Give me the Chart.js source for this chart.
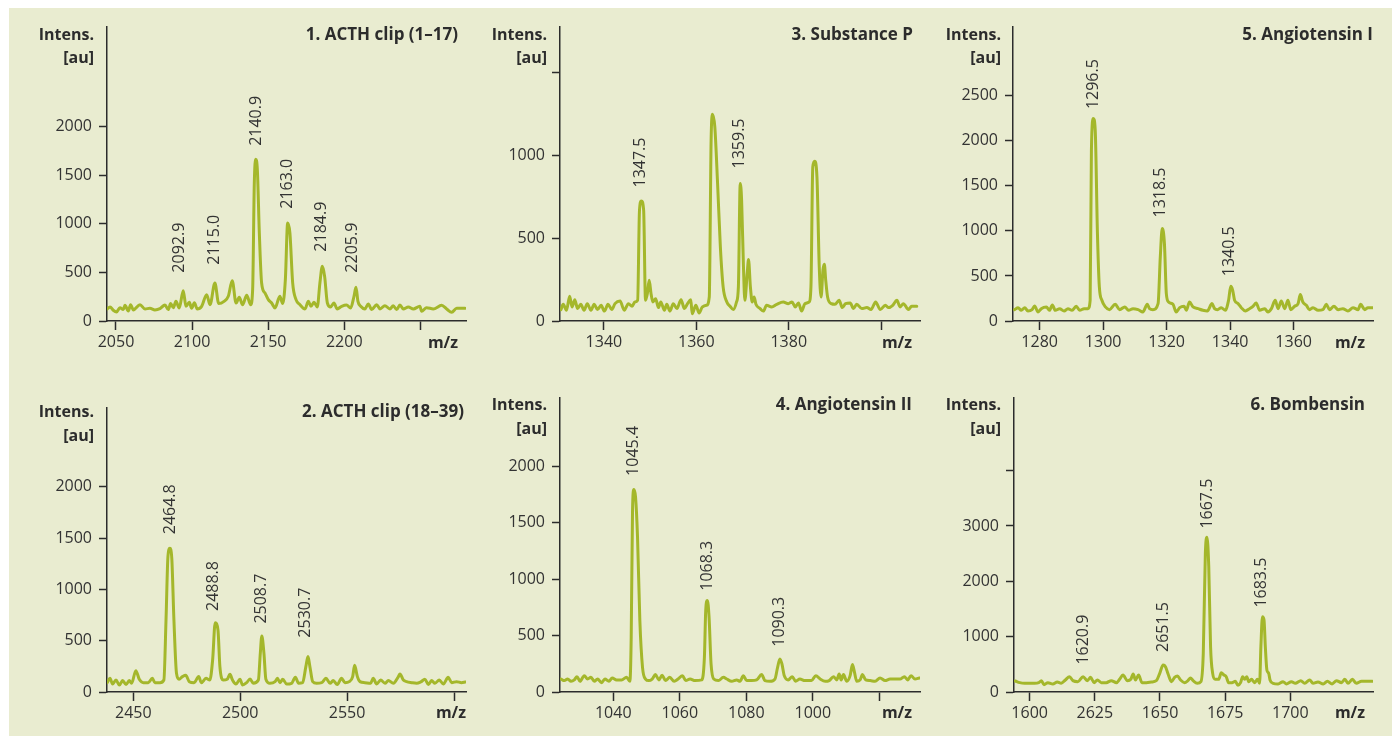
<!DOCTYPE html>
<html><head><meta charset="utf-8">
<script src="https://cdn.jsdelivr.net/npm/chart.js@4.4.0/dist/chart.umd.min.js"></script>
<style>
html,body{margin:0;padding:0;background:#fff;width:1392px;height:744px;overflow:hidden;}
#bg{position:absolute;left:9px;top:8px;width:1383px;height:728px;background:#e9ecd0;}
canvas{position:absolute;}
</style></head><body>
<div id="bg"></div>
<canvas id="c1"></canvas><canvas id="c3"></canvas><canvas id="c5"></canvas>
<canvas id="c2"></canvas><canvas id="c4"></canvas><canvas id="c6"></canvas>
<script>
// ---------- 1. ACTH clip (1-17)
const acth117Mz = [2044.2,2046.1,2048.2,2050.4,2052.6,2054.8,2055.9,2058.1,2059.6,2061.4,2065.8,2069.1,2072.3,2075.6,2078.9,2082.2,2084.4,2085.9,2087.7,2089.4,2091.6,2094.2,2096.0,2098.2,2099.7,2101.5,2103.4,2106.3,2109.6,2111.8,2115.0,2117.5,2121.0,2123.8,2126.4,2128.9,2131.0,2133.2,2135.9,2138.5,2139.8,2140.9,2141.8,2142.9,2144.2,2145.7,2147.9,2150.1,2152.3,2154.5,2157.7,2159.5,2161.3,2162.8,2164.3,2166.1,2168.3,2170.9,2174.2,2176.4,2178.1,2180.1,2182.3,2184.0,2185.6,2187.1,2188.9,2191.0,2193.2,2195.4,2198.3,2201.5,2204.2,2206.4,2207.7,2209.0,2210.8,2213.6,2215.8,2218.0,2221.3,2223.5,2226.7,2230.0,2232.2,2234.4,2236.6,2238.8,2242.1,2245.4,2249.7,2250.8,2254.1,2258.5,2264.0,2267.3,2270.6,2273.9,2279.3];
const acth117Int = [124,145,110,93,137,117,161,103,168,114,168,124,131,114,127,165,117,179,137,202,134,312,151,192,131,188,124,151,271,168,391,179,202,254,415,185,244,168,264,168,322,1418,1664,1554,904,391,288,220,185,134,254,179,425,1007,904,391,220,168,124,202,151,192,145,391,562,459,185,145,185,124,151,165,134,254,346,202,151,124,175,117,168,124,158,124,158,117,165,124,145,124,151,100,137,124,161,124,89,131,131];
const acth117XTicks = [2050,2100,2150,2200,2250];
const acth117XLabels = ['2050','2100','2150','2200',''];
const acth117YTicks = [0,500,1000,1500,2000];
const acth117YLabels = ['0','500','1000','1500','2000'];
const acth117Peaks = ['2092.9','2115.0','2140.9','2163.0','2184.9','2205.9'];
const acth117PeakMz = [2092.0,2114.4,2142.0,2162.4,2185.3,2205.7];
const acth117PeakLabelInt = [497,579,1801,1154,713,497];

// ---------- 3. Substance P
const subPMz = [1330.7,1331.2,1331.9,1332.6,1333.1,1333.7,1334.3,1335.0,1335.7,1336.4,1337.2,1337.9,1338.6,1339.4,1340.1,1340.9,1341.7,1342.4,1343.5,1344.4,1345.3,1346.1,1346.7,1347.3,1347.7,1348.1,1348.6,1349.0,1349.4,1349.8,1350.2,1350.6,1351.2,1351.8,1352.3,1353.1,1353.6,1354.3,1355.0,1355.8,1356.7,1357.4,1358.1,1358.8,1359.1,1359.9,1360.6,1361.3,1362.2,1362.8,1363.2,1363.5,1364.0,1364.6,1365.2,1365.8,1366.6,1367.3,1368.0,1368.7,1369.1,1369.5,1369.8,1370.2,1370.5,1371.0,1371.3,1371.7,1372.1,1372.5,1372.9,1373.8,1374.5,1375.2,1376.3,1377.4,1378.8,1379.9,1380.7,1381.4,1382.1,1382.8,1383.5,1384.4,1384.8,1385.2,1385.6,1386.1,1386.6,1387.0,1387.4,1387.7,1388.0,1388.4,1389.2,1390.0,1390.9,1391.6,1392.3,1393.3,1394.0,1394.7,1395.8,1396.9,1397.8,1398.8,1399.8,1400.9,1401.6,1402.5,1403.4,1404.1,1404.8,1405.9,1406.6,1407.7];
const subPInt = [69,101,65,149,85,129,75,101,65,105,65,101,69,95,60,101,69,105,121,65,105,89,115,125,669,726,669,125,165,246,165,115,135,81,115,65,101,60,105,75,129,75,105,129,44,95,48,85,95,145,1093,1250,1173,831,448,206,115,89,69,115,206,831,730,327,125,286,371,206,115,145,101,75,60,95,85,101,115,105,115,85,109,60,105,115,206,931,966,871,327,145,307,343,246,145,105,101,125,81,105,109,75,101,75,81,69,115,69,95,81,95,125,85,105,69,89,89];
const subPXTicks = [1340,1360,1380,1400];
const subPXLabels = ['1340','1360','1380',''];
const subPYTicks = [0,500,1000,1500];
const subPYLabels = ['0','500','1000',''];
const subPPeaks = ['1347.5','1359.5'];
const subPPeakMz = [1347.9,1369.3];
const subPPeakLabelInt = [807,922];

// ---------- 5. Angiotensin I
const angIMz = [1272.1,1273.2,1274.2,1275.3,1276.3,1277.6,1278.4,1279.5,1280.5,1282.1,1283.1,1284.0,1284.9,1286.3,1287.7,1288.9,1290.2,1291.5,1292.6,1294.0,1295.2,1295.9,1296.3,1296.9,1297.5,1298.2,1298.8,1299.6,1300.7,1302.0,1303.8,1305.2,1306.8,1308.0,1309.4,1311.0,1312.5,1313.9,1314.6,1315.7,1317.3,1318.0,1318.6,1319.3,1319.9,1320.6,1322.0,1323.0,1324.1,1325.5,1326.2,1327.2,1328.3,1329.9,1331.4,1332.8,1334.3,1335.1,1336.0,1337.2,1338.5,1339.5,1340.2,1340.8,1341.4,1342.5,1343.5,1344.8,1346.1,1347.2,1348.2,1349.3,1350.9,1351.9,1353.0,1354.2,1355.1,1356.1,1357.2,1358.2,1359.1,1360.3,1361.4,1362.1,1362.9,1364.0,1365.0,1366.1,1367.7,1369.2,1370.3,1371.3,1372.7,1374.0,1375.5,1377.1,1378.7,1380.3,1381.1,1382.4,1383.4,1385.0];
const angIInt = [126,148,119,148,111,126,167,100,137,156,119,178,119,137,111,137,119,163,119,137,137,230,1896,2248,2119,970,378,230,156,126,185,126,156,119,137,126,100,185,137,126,193,711,1026,859,304,211,185,100,148,163,119,211,156,137,119,111,193,137,126,148,119,230,385,341,230,193,148,111,137,163,200,119,137,100,137,230,137,222,137,230,126,163,193,293,211,174,126,148,119,126,185,126,163,126,137,111,148,126,185,126,148,148];
const angIXTicks = [1280,1300,1320,1340,1360];
const angIXLabels = ['1280','1300','1320','1340','1360'];
const angIYTicks = [0,500,1000,1500,2000,2500];
const angIYLabels = ['0','500','1000','1500','2000','2500'];
const angIPeaks = ['1296.5','1318.5','1340.5'];
const angIPeakMz = [1296.9,1318.1,1339.7];
const angIPeakLabelInt = [2352,1149,497];

// ---------- 2. ACTH clip (18-39)
const acth1839Mz = [2437.8,2439.1,2440.3,2441.9,2443.5,2445.0,2446.6,2448.1,2449.2,2451.2,2452.8,2454.7,2457.0,2458.9,2460.1,2462.5,2464.3,2465.3,2466.2,2467.1,2468.0,2469.0,2470.2,2471.4,2473.0,2474.5,2476.2,2478.4,2480.6,2481.8,2484.0,2485.8,2487.1,2488.3,2489.6,2490.5,2492.1,2493.9,2495.2,2496.4,2498.0,2499.9,2501.1,2503.0,2504.6,2506.1,2508.5,2509.4,2510.1,2511.1,2512.0,2513.9,2516.3,2517.4,2518.6,2519.9,2521.7,2524.0,2525.8,2527.3,2529.2,2530.7,2531.7,2532.6,2533.9,2535.7,2538.1,2540.1,2542.0,2543.5,2545.4,2547.4,2549.0,2551.0,2552.6,2553.5,2554.8,2556.0,2558.3,2561.0,2562.2,2563.8,2565.7,2567.7,2569.3,2571.6,2574.0,2574.7,2576.3,2577.8,2580.2,2582.5,2584.4,2586.4,2588.0,2589.5,2591.1,2593.1,2595.0,2597.3,2598.9,2601.2,2603.5,2605.3];
const acth1839Int = [91,133,78,117,68,111,72,111,85,208,124,91,91,133,91,91,117,702,1320,1401,1303,702,182,124,150,163,101,91,150,91,133,117,312,676,605,247,117,124,172,117,78,124,68,91,127,85,117,377,546,377,124,85,101,133,91,124,78,85,143,85,91,247,345,247,101,85,91,133,85,111,72,133,91,101,150,260,150,101,91,85,133,78,117,85,111,85,150,176,117,101,91,85,98,124,72,111,85,117,78,143,91,101,91,98];
const acth1839XTicks = [2450,2500,2550,2600];
const acth1839XLabels = ['2450','2500','2550',''];
const acth1839YTicks = [0,500,1000,1500,2000];
const acth1839YLabels = ['0','500','1000','1500','2000'];
const acth1839Peaks = ['2464.8','2488.8','2508.7','2530.7'];
const acth1839PeakMz = [2467.2,2487.4,2509.7,2530.6];
const acth1839PeakLabelInt = [1538,790,667,530];

// ---------- 4. Angiotensin II
const angIIMz = [1024.3,1025.3,1026.3,1027.3,1028.3,1029.1,1030.0,1031.3,1032.3,1033.3,1034.3,1035.3,1036.5,1037.5,1038.7,1039.7,1041.0,1042.5,1044.0,1045.0,1045.4,1045.8,1046.2,1046.7,1047.3,1048.0,1048.8,1049.7,1050.7,1051.7,1052.7,1053.7,1054.7,1055.7,1057.0,1058.3,1059.5,1060.8,1061.8,1063.1,1064.6,1066.6,1067.4,1067.8,1068.3,1068.8,1069.4,1070.2,1071.6,1073.1,1074.1,1075.6,1077.1,1078.1,1079.1,1080.1,1081.6,1083.1,1084.6,1085.6,1087.1,1088.6,1089.4,1090.1,1090.7,1091.4,1092.6,1093.8,1094.8,1096.1,1097.6,1099.6,1100.9,1102.2,1103.7,1104.9,1106.2,1107.2,1107.9,1108.5,1109.2,1110.2,1111.2,1111.9,1112.5,1113.2,1114.2,1114.9,1115.9,1117.2,1118.7,1120.2,1121.7,1123.2,1124.7,1126.2,1127.5,1128.5,1129.5,1130.7,1132.0];
const angIIInt = [115,101,115,95,107,136,95,145,115,130,95,115,83,115,95,124,107,107,130,95,485,1610,1793,1728,1373,633,219,115,101,115,154,107,148,101,130,95,115,145,101,115,101,107,308,722,811,663,249,115,101,130,115,95,107,95,145,101,101,107,154,101,95,115,219,293,249,145,107,136,95,115,101,101,145,115,95,101,136,107,160,107,154,95,145,243,175,95,107,154,107,101,95,124,101,115,115,115,136,107,145,115,124];
const angIIXTicks = [1040,1060,1080,1100,1120];
const angIIXLabels = ['1040','1060','1080','1000',''];
const angIIYTicks = [0,500,1000,1500,2000];
const angIIYLabels = ['0','500','1000','1500','2000'];
const angIIPeaks = ['1045.4','1068.3','1090.3'];
const angIIPeakMz = [1046.2,1068.3,1090.1];
const angIIPeakLabelInt = [1914,897,401];

// ---------- 6. Bombensin
const bombMz = [1594.5,1596.2,1598.1,1600.0,1601.9,1603.5,1604.5,1605.5,1607.0,1608.9,1610.6,1612.1,1613.7,1615.3,1616.6,1618.5,1620.5,1622.1,1623.4,1624.7,1626.0,1627.5,1629.4,1631.3,1633.3,1634.5,1635.8,1637.5,1638.8,1639.7,1640.6,1641.8,1643.1,1644.8,1646.7,1648.6,1649.9,1651.2,1652.1,1653.1,1654.4,1655.6,1656.7,1657.9,1659.4,1660.7,1661.7,1662.7,1664.3,1665.7,1666.6,1667.4,1668.0,1668.7,1669.4,1670.2,1671.2,1672.5,1673.5,1674.5,1675.4,1676.3,1677.6,1678.9,1679.9,1680.9,1681.7,1682.5,1683.3,1684.0,1685.1,1686.3,1687.4,1688.2,1688.7,1689.3,1689.9,1690.4,1691.0,1691.7,1692.2,1693.4,1695.3,1697.2,1698.5,1700.4,1701.9,1704.0,1705.5,1707.4,1708.7,1710.6,1712.6,1714.2,1716.0,1717.7,1719.6,1720.9,1722.1,1723.8,1725.3,1727.3,1729.2,1731.5];
const bombInt = [199,169,157,157,157,169,205,133,169,145,181,157,217,277,205,187,277,205,265,169,217,169,169,205,169,229,307,205,229,325,217,307,169,169,181,205,337,488,458,325,187,265,289,217,169,205,253,205,157,187,699,2506,2795,2265,819,337,229,229,349,307,277,169,169,193,120,169,277,229,277,187,229,169,229,157,819,1361,1301,819,398,337,217,157,145,187,145,187,157,205,157,217,157,181,145,193,145,205,169,229,157,229,157,193,193,193];
const bombXTicks = [1600,1625,1650,1675,1700];
const bombXLabels = ['1600','2625','1650','1675','1700'];
const bombYTicks = [0,1000,2000,3000,4000];
const bombYLabels = ['0','1000','2000','3000',''];
const bombPeaks = ['1620.9','2651.5','1667.5','1683.5'];
const bombPeakMz = [1620.6,1651.3,1668.2,1688.8];
const bombPeakLabelInt = [495,723,2953,1525];

// ---------- layout / styling
const LINE = '#a4b72b';
const INK = '#2c2c2c';
const FONT = '"Open Sans", "DejaVu Sans", sans-serif';

const panels = [
  {id:'c1', box:[9,8,461,361], area:[107,27,466,321], xr:[2044.1,2280], yr:[0,3023],
   unitX:94, l1:40, l2:63, titleX:458, mzX:458, mzY:348, title:'1. ACTH clip (1–17)',
   mz:acth117Mz, it:acth117Int, xt:acth117XTicks, xl:acth117XLabels, yt:acth117YTicks, yl:acth117YLabels,
   pk:acth117Peaks, pkx:acth117PeakMz, pky:acth117PeakLabelInt},
  {id:'c3', box:[470,8,460,361], area:[560,27,920,321], xr:[1330.5,1408.4], yr:[0,1777],
   unitX:547, l1:40, l2:63, titleX:913, mzX:912, mzY:348, title:'3. Substance P',
   mz:subPMz, it:subPInt, xt:subPXTicks, xl:subPXLabels, yt:subPYTicks, yl:subPYLabels,
   pk:subPPeaks, pkx:subPPeakMz, pky:subPPeakLabelInt},
  {id:'c5', box:[930,8,462,361], area:[1013,27,1373,321], xr:[1271.6,1385], yr:[0,3263],
   unitX:1001, l1:40, l2:63, titleX:1373, mzX:1365, mzY:348, title:'5. Angiotensin I',
   mz:angIMz, it:angIInt, xt:angIXTicks, xl:angIXLabels, yt:angIYTicks, yl:angIYLabels,
   pk:angIPeaks, pkx:angIPeakMz, pky:angIPeakLabelInt},
  {id:'c2', box:[9,370,461,366], area:[107,408,466,692], xr:[2437.7,2605.6], yr:[0,2769],
   unitX:94, l1:417, l2:441, titleX:464, mzX:466, mzY:718, title:'2. ACTH clip (18–39)',
   mz:acth1839Mz, it:acth1839Int, xt:acth1839XTicks, xl:acth1839XLabels, yt:acth1839YTicks, yl:acth1839YLabels,
   pk:acth1839Peaks, pkx:acth1839PeakMz, pky:acth1839PeakLabelInt},
  {id:'c4', box:[470,370,460,366], area:[560,398,920,692], xr:[1024,1132.2], yr:[0,2604],
   unitX:547, l1:410, l2:434, titleX:912, mzX:912, mzY:718, title:'4. Angiotensin II',
   mz:angIIMz, it:angIIInt, xt:angIIXTicks, xl:angIIXLabels, yt:angIIYTicks, yl:angIIYLabels,
   pk:angIIPeaks, pkx:angIIPeakMz, pky:angIIPeakLabelInt},
  {id:'c6', box:[930,370,462,366], area:[1014,398,1373,692], xr:[1594,1731.7], yr:[0,5313],
   unitX:1001, l1:410, l2:434, titleX:1365, mzX:1365, mzY:718, title:'6. Bombensin',
   mz:bombMz, it:bombInt, xt:bombXTicks, xl:bombXLabels, yt:bombYTicks, yl:bombYLabels,
   pk:bombPeaks, pkx:bombPeakMz, pky:bombPeakLabelInt}
];

function makeChart(p){
  const cv = document.getElementById(p.id);
  const [L,T,W,H] = p.box;
  cv.width = W; cv.height = H;
  cv.style.left = L+'px'; cv.style.top = T+'px';
  cv.style.width = W+'px'; cv.style.height = H+'px';
  const [ax0, atop, aright, ay0] = p.area;
  const n = Math.min(p.mz.length, p.it.length);
  const pts = [];
  for (let i=0;i<n;i++) pts.push({x:p.mz[i], y:p.it[i]});

  const textPlugin = {
    id:'panelText',
    afterDraw(chart){
      const ctx = chart.ctx, xs = chart.scales.x, ys = chart.scales.y;
      ctx.save();
      ctx.fillStyle = INK;
      ctx.font = 'bold 16px ' + FONT;
      ctx.textAlign = 'right'; ctx.textBaseline = 'alphabetic';
      ctx.fillText('Intens.', p.unitX - L, p.l1 - T);
      ctx.fillText('[au]', p.unitX - L, p.l2 - T);
      ctx.fillText('m/z', p.mzX - L, p.mzY - T);
      ctx.font = 'bold 17px ' + FONT;
      ctx.fillText(p.title, p.titleX - L, p.l1 - T);
      ctx.font = '16px ' + FONT;
      ctx.fillStyle = '#333';
      ctx.textAlign = 'left'; ctx.textBaseline = 'middle';
      p.pk.forEach((t,i)=>{
        const px = xs.getPixelForValue(p.pkx[i]);
        const py = ys.getPixelForValue(p.pky[i]);
        ctx.save(); ctx.translate(px, py); ctx.rotate(-Math.PI/2);
        ctx.fillText(t, 0, 0); ctx.restore();
      });
      ctx.restore();
    }
  };

  const axisCommon = {
    border:{display:true, color:INK, width:1.5},
    grid:{drawOnChartArea:false, drawTicks:true, tickLength:8, tickColor:INK, tickWidth:1.5}
  };

  return new Chart(cv, {
    type:'line',
    data:{datasets:[{data:pts, borderColor:LINE, borderWidth:3, pointRadius:0,
      cubicInterpolationMode:'monotone', fill:false, borderJoinStyle:'round', borderCapStyle:'round'}]},
    plugins:[textPlugin],
    options:{
      responsive:false, animation:false, devicePixelRatio:1,
      layout:{padding:{left:0, top: atop - T, right: (L+W) - aright, bottom:0}},
      plugins:{legend:{display:false}, tooltip:{enabled:false}},
      scales:{
        x:{type:'linear', min:p.xr[0], max:p.xr[1], ...axisCommon,
          grid:{...axisCommon.grid, tickLength:9},
          afterFit:(s)=>{ s.height = (T+H) - ay0; s.paddingLeft = 0; s.paddingRight = 0; },
          afterBuildTicks:(s)=>{ s.ticks = p.xt.map(v=>({value:v})); },
          ticks:{autoSkip:false, maxRotation:0, minRotation:0, padding:3, color:'#333',
            font:{family:FONT, size:16}, callback:(v,i)=>p.xl[i]}},
        y:{type:'linear', min:p.yr[0], max:p.yr[1], ...axisCommon,
          afterFit:(s)=>{ s.width = ax0 - L; s.paddingTop = 0; s.paddingBottom = 0; },
          afterBuildTicks:(s)=>{ s.ticks = p.yt.map(v=>({value:v})); },
          ticks:{autoSkip:false, padding:7, color:'#333',
            font:{family:FONT, size:16}, callback:(v,i)=>p.yl[i]}}
      }
    }
  });
}
panels.forEach(makeChart);
</script>
</body></html>
